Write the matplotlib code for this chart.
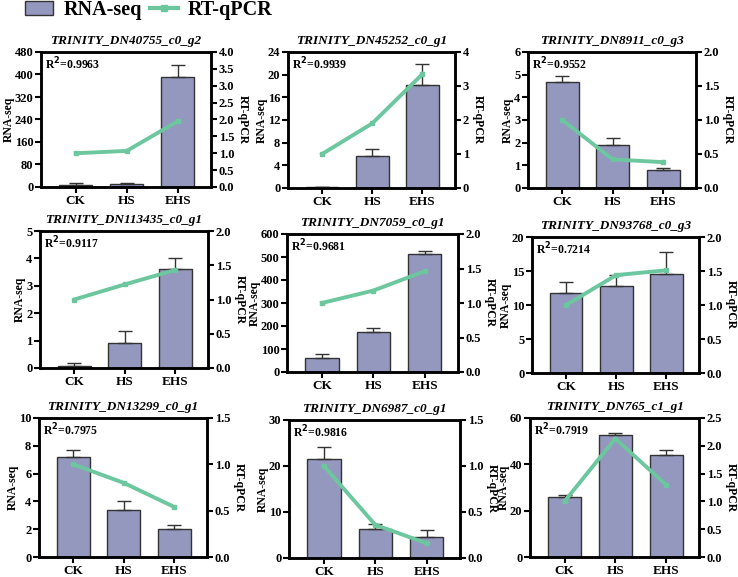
import matplotlib.pyplot as plt
from matplotlib.patches import Patch
from matplotlib.lines import Line2D
import numpy as np

plt.rcParams['font.family'] = ['Liberation Serif', 'DejaVu Serif']
plt.rcParams['font.weight'] = 'bold'

groupes = ["CK", "HS", "EHS"]
genes = ["TRINITY_DN40755_c0_g2", "TRINITY_DN45252_c0_g1", "TRINITY_DN8911_c0_g3",
         "TRINITY_DN113435_c0_g1", "TRINITY_DN7059_c0_g1", "TRINITY_DN93768_c0_g3",
         "TRINITY_DN13299_c0_g1", "TRINITY_DN6987_c0_g1", "TRINITY_DN765_c1_g1"]
r2 = ["0.9963", "0.9939", "0.9552", "0.9117", "0.9681", "0.7214", "0.7975", "0.9816", "0.7919"]

rnaseq = [[8, 12, 390], [0.2, 5.7, 18.1], [4.68, 1.88, 0.78],
          [0.08, 0.93, 3.62], [62, 173, 512], [11.8, 12.8, 14.5],
          [7.2, 3.4, 2.0], [21.6, 6.2, 4.6], [25.8, 52.8, 44.2]]
rnaseq_err = [[6, 2, 42], [0.05, 1.2, 3.7], [0.27, 0.32, 0.09],
              [0.10, 0.42, 0.38], [18, 20, 15], [1.6, 1.6, 3.3],
              [0.5, 0.6, 0.3], [2.6, 1.2, 1.5], [0.8, 0.7, 2.0]]
qpcr = [[1.0, 1.07, 1.95], [1.0, 1.9, 3.35], [1.0, 0.42, 0.38],
        [1.0, 1.22, 1.43], [1.0, 1.18, 1.46], [1.0, 1.44, 1.51],
        [1.0, 0.80, 0.54], [1.0, 0.36, 0.16], [1.0, 2.13, 1.30]]

ylim_g = [(480, 80), (24, 4), (6, 1), (5, 1), (600, 100), (20, 5), (10, 2), (30, 10), (60, 20)]
ylim_d = [(4.0, 0.5, "%.1f"), (4, 1, "%d"), (2.0, 0.5, "%.1f"), (2.0, 0.5, "%.1f"), (2.0, 0.5, "%.1f"),
          (2.0, 0.5, "%.1f"), (1.5, 0.5, "%.1f"), (1.5, 0.5, "%.1f"), (2.5, 0.5, "%.1f")]

couleur_barre = "#9497be"
couleur_ligne = "#6cc79f"

W, H = 738, 577
fig = plt.figure(figsize=(W / 100, H / 100), dpi=100)

# cadres en pixels : gauche, haut, droite, bas
cadres = [(41, 52, 211, 187), (288, 52, 455, 188), (528, 52, 696, 188),
          (40, 231, 208, 368), (287, 234, 458, 372), (532, 237, 699, 373),
          (39, 418, 207, 557), (289, 420, 460, 558), (530, 418, 699, 557)]

x = np.arange(3)

for i in range(9):
    g, h, d, b = cadres[i]
    ax = fig.add_axes([g / W, 1 - b / H, (d - g) / W, (b - h) / H])
    ax.bar(x, rnaseq[i], 0.65, color=couleur_barre, edgecolor="#333333", linewidth=1.0, zorder=2)
    ax.errorbar(x, rnaseq[i], yerr=[[0, 0, 0], rnaseq_err[i]], fmt="none", ecolor="#333333",
                elinewidth=1.0, capsize=5, capthick=1.0, zorder=3)
    ymax, pas = ylim_g[i]
    ax.set_ylim(0, ymax)
    ax.set_yticks(np.arange(0, ymax + pas / 2, pas))
    ax.set_xlim(-0.68, 2.65)
    ax.set_xticks(x)
    ax.set_xticklabels(groupes)
    ax.set_ylabel("RNA-seq", fontsize=8.5, fontweight="bold", labelpad=0)
    ax.set_title(genes[i], fontsize=9.5, fontweight="bold", style="italic", pad=6)
    ax.text(0.025, 0.97, "R$^\\mathbf{2}$=" + r2[i], transform=ax.transAxes, fontsize=8.5,
            fontweight="bold", va="top", ha="left")
    for s in ax.spines.values():
        s.set_linewidth(1.8)
    ax.tick_params(width=1.5, length=4.5, labelsize=9, pad=1)
    ax.tick_params(axis="x", labelsize=9.5)

    ax2 = ax.twinx()
    ax2.plot(x, qpcr[i], "-s", color=couleur_ligne, linewidth=2.8, markersize=3.5, zorder=4)
    dmax, dpas, fmt = ylim_d[i]
    ax2.set_ylim(0, dmax)
    ticks = np.arange(0, dmax + dpas / 2, dpas)
    ax2.set_yticks(ticks)
    ax2.set_yticklabels([fmt % t for t in ticks])
    ax2.set_ylabel("RT-qPCR", fontsize=8.5, fontweight="bold", rotation=270, va="bottom", labelpad=2)
    for s in ax2.spines.values():
        s.set_linewidth(1.8)
    ax2.tick_params(width=1.5, length=4.5, labelsize=9, pad=1)

poignees = [Patch(facecolor=couleur_barre, edgecolor="#333333", linewidth=1.0),
            Line2D([0], [0], color=couleur_ligne, linewidth=3, marker="s", markersize=5)]
fig.legend(poignees, ["RNA-seq", "RT-qPCR"], loc="upper left", bbox_to_anchor=(25 / W, 1 - 0 / H),
           ncol=2, frameon=False, prop={"size": 14.5, "weight": "bold"}, handlelength=1.4,
           columnspacing=0.4, handletextpad=0.5, borderpad=0, borderaxespad=0)

plt.savefig("out.png", dpi=100)
